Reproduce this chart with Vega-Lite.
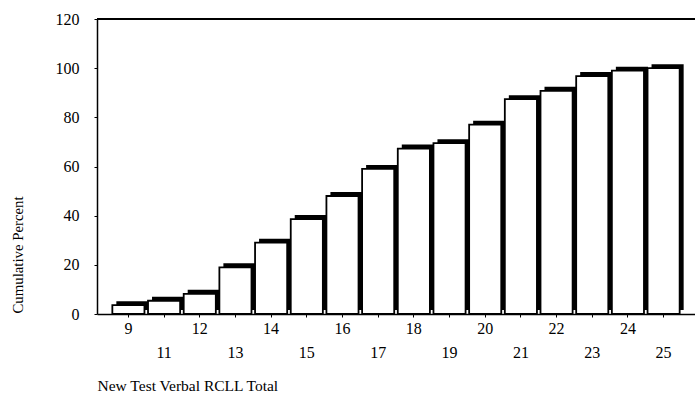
{
  "$schema": "https://vega.github.io/schema/vega-lite/v6.json",
  "width": 598,
  "height": 295,
  "autosize": "none",
  "padding": {"left": 97, "top": 19, "right": 0, "bottom": 86},
  "background": "white",
  "config": {
    "view": {"stroke": null},
    "font": "Liberation Serif",
    "axis": {
      "domainColor": "black",
      "domainWidth": 1.5,
      "tickColor": "black",
      "tickSize": 3,
      "labelColor": "black",
      "titleColor": "black",
      "labelFont": "Liberation Serif",
      "titleFont": "Liberation Serif",
      "titleFontWeight": "normal",
      "grid": false
    }
  },
  "data": {
    "values": [
      {"score": 9, "pct": 3.6},
      {"score": 11, "pct": 5.4},
      {"score": 12, "pct": 8.2},
      {"score": 13, "pct": 19},
      {"score": 14, "pct": 29},
      {"score": 15, "pct": 38.6},
      {"score": 16, "pct": 48},
      {"score": 17, "pct": 59},
      {"score": 18, "pct": 67.3},
      {"score": 19, "pct": 69.5},
      {"score": 20, "pct": 77},
      {"score": 21, "pct": 87.4},
      {"score": 22, "pct": 90.8},
      {"score": 23, "pct": 96.8},
      {"score": 24, "pct": 99},
      {"score": 25, "pct": 100}
    ]
  },
  "encoding": {
    "x": {
      "field": "score",
      "type": "ordinal",
      "scale": {"paddingInner": 0.1, "paddingOuter": 0.43},
      "axis": {
        "title": "New Test Verbal RCLL Total",
        "labelAngle": 0,
        "labelFontSize": 16,
        "labelPadding": 3,
        "labelLineHeight": 24,
        "labelExpr": "indexof([11,13,15,17,19,21,23,25], datum.value) >= 0 ? ['', datum.label] : datum.label",
        "titleFontSize": 15.5,
        "titleAnchor": "start",
        "titleAlign": "left",
        "titleBaseline": "alphabetic",
        "titleX": 0,
        "titleY": 76
      }
    },
    "y": {
      "field": "pct",
      "type": "quantitative",
      "scale": {"domain": [0, 120], "nice": false},
      "axis": {
        "title": "Cumulative Percent",
        "values": [0, 20, 40, 60, 80, 100, 120],
        "labelFontSize": 16,
        "labelPadding": 15,
        "titleFontSize": 14.8,
        "titleAngle": -90,
        "titleAlign": "left",
        "titleBaseline": "alphabetic",
        "titleX": -75,
        "titleY": 294
      }
    }
  },
  "layer": [
    {
      "mark": {"type": "bar", "color": "black", "xOffset": 4, "x2Offset": 4, "yOffset": -4}
    },
    {
      "mark": {"type": "bar", "fill": "white", "stroke": "black", "strokeWidth": 1.8}
    },
    {
      "mark": {"type": "rule", "color": "black", "strokeWidth": 1.5},
      "encoding": {"y": {"datum": 120}, "x": null}
    }
  ]
}
